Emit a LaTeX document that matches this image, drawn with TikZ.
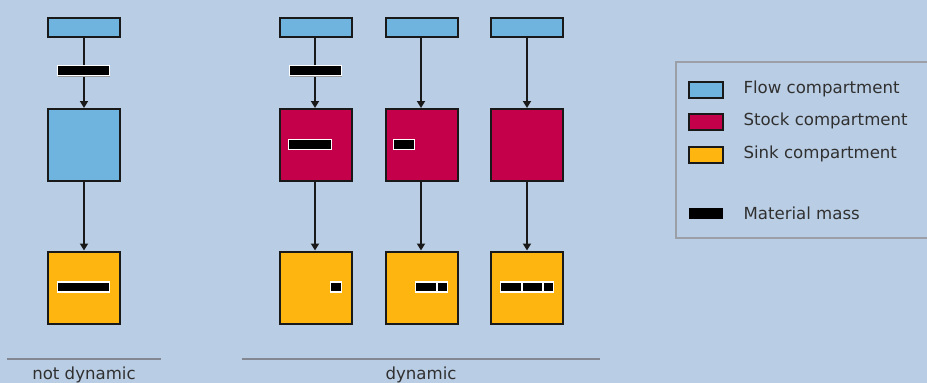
\documentclass[tikz,border=0pt]{standalone}
\usepackage{fontspec}
\setmainfont{DejaVu Sans}
\usetikzlibrary{arrows.meta,shadows}

\definecolor{paneblue}{RGB}{185,205,228}
\definecolor{flowblue}{RGB}{110,180,222}
\definecolor{stockred}{RGB}{197,0,75}
\definecolor{sinkgold}{RGB}{255,181,15}
\definecolor{rulegray}{RGB}{130,135,145}
\definecolor{inkdark}{RGB}{25,25,25}

\begin{document}
\begin{tikzpicture}[x=1pt,y=1pt,
 comp/.style={draw=inkdark,line width=2pt,inner sep=0pt,minimum width=72pt},
 flowc/.style={comp,fill=flowblue,minimum height=19.5pt},
 stockc/.style={comp,fill=stockred,minimum height=72pt},
 sinkc/.style={comp,fill=sinkgold,minimum height=72pt},
 mass/.style={fill=black,draw=white,line width=1.2pt,inner sep=0pt,minimum height=10pt},
 moving/.style={mass,drop shadow={shadow xshift=0pt,shadow yshift=-1.2pt,fill=black!40,opacity=1}},
 link/.style={-{Triangle[length=7pt,width=8pt]},line width=1.8pt,draw=inkdark},
 lab/.style={font=\fontsize{16.6}{19}\selectfont,text=inkdark!90},
 key/.style={draw=inkdark,line width=1.8pt,inner sep=0pt,minimum width=34pt,minimum height=16pt}]
\fill[paneblue] (0,0) rectangle (927,-383);
\useasboundingbox (0,0) rectangle (927,-383);

% not dynamic
\node[flowc] (in0) at (84,-27.5) {};
\node[comp,fill=flowblue,minimum height=72pt] (mid0) at (84,-145) {};
\node[sinkc] (out0) at (84,-287.5) {};
\draw[link] (in0) -- (mid0);
\draw[link] (mid0) -- (out0);
\node[moving,minimum width=52pt] (fm0) at (83.5,-70.5) {};
\node[mass,minimum width=52pt] (sm0) at (83.5,-287) {};

% dynamic
\node[flowc] (in1) at (315.5,-27.5) {};
\node[flowc] (in2) at (421.5,-27.5) {};
\node[flowc] (in3) at (527,-27.5) {};
\node[stockc] (st1) at (315.5,-145) {};
\node[stockc] (st2) at (421.5,-145) {};
\node[stockc] (st3) at (527,-145) {};
\node[sinkc] (out1) at (315.5,-287.5) {};
\node[sinkc] (out2) at (421.5,-287.5) {};
\node[sinkc] (out3) at (527,-287.5) {};
\foreach \i/\x in {1/315,2/421,3/527}{
 \draw[link] (in\i.south -| \x,0) -- (st\i.north -| \x,0);
 \draw[link] (st\i.south -| \x,0) -- (out\i.north -| \x,0);
}
\node[moving,minimum width=52pt] (fm1) at (315.5,-70.5) {};
\node[mass,minimum width=43pt] (sm1) at (310,-144.5) {};
\node[mass,minimum width=21pt] (sm2) at (404,-144.5) {};
\node[mass,minimum width=11pt] (km1) at (336,-287) {};
\node[mass,minimum width=21pt] (ka2) at (426,-287) {};
\node[mass,minimum width=10pt] (kb2) at (442.5,-287) {};
\node[mass,minimum width=21pt] (ka3) at (511,-287) {};
\node[mass,minimum width=20pt] (kb3) at (532.5,-287) {};
\node[mass,minimum width=10pt] (kc3) at (548.5,-287) {};

% captions
\draw[rulegray,line width=1.4pt] (7,-359) -- (161,-359);
\node[lab] (nd) at (84,-374.5) {not dynamic};
\draw[rulegray,line width=1.4pt] (242,-359) -- (600,-359);
\node[lab] (dy) at (421,-374.5) {dynamic};

% legend
\draw[rulegray!80,line width=1.5pt] (930,-62) -- (676,-62) -- (676,-238) -- (930,-238);
\node[key,fill=flowblue] (kflow) at (706,-90) {};
\node[key,fill=stockred] (kstock) at (706,-122) {};
\node[key,fill=sinkgold] (ksink) at (706,-155) {};
\node[fill=black,inner sep=0pt,minimum width=34pt,minimum height=10.5pt] (kmass) at (706,-213.5) {};
\node[lab,anchor=west] at (740,-89) {Flow compartment};
\node[lab,anchor=west] at (740,-121) {Stock compartment};
\node[lab,anchor=west] at (740,-154) {Sink compartment};
\node[lab,anchor=west] at (740,-213) {Material mass};
\end{tikzpicture}
\end{document}
